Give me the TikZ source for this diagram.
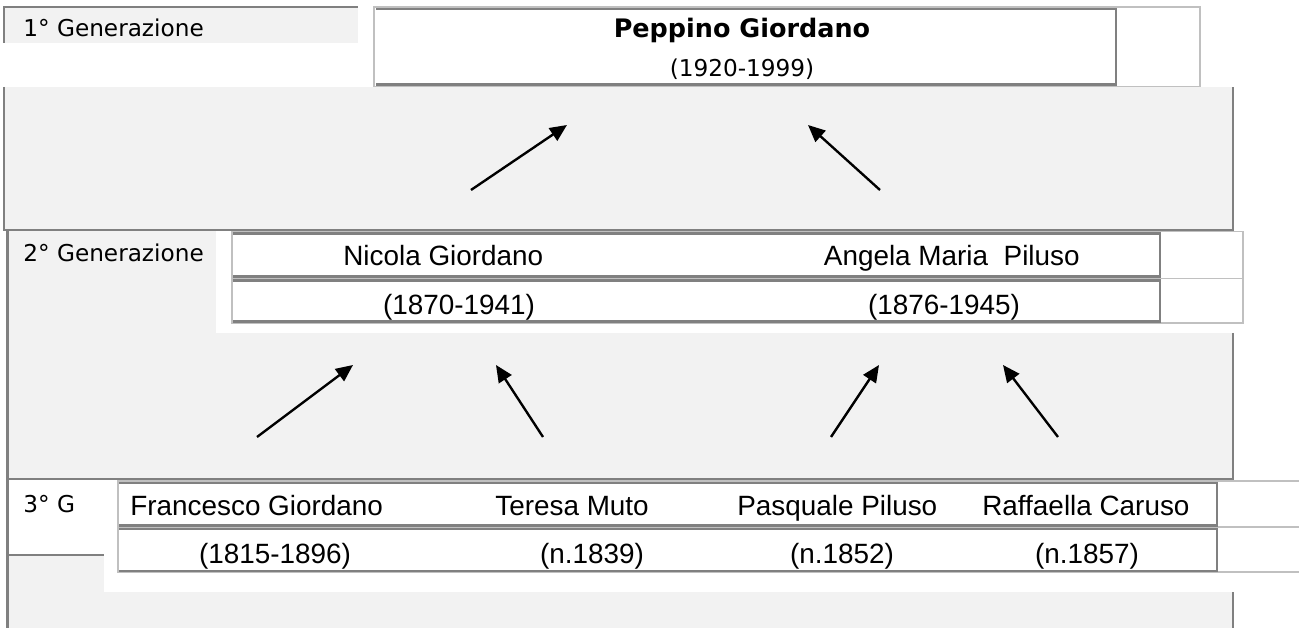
\documentclass[tikz,border=0pt]{standalone}
\usepackage{fontspec}
\setmainfont{Liberation Sans}
\newfontfamily\verdfont{DejaVu Sans}
\usetikzlibrary{arrows.meta}
\definecolor{cellgray}{HTML}{F2F2F2}
\definecolor{darkline}{HTML}{808080}
\definecolor{lightline}{HTML}{C0C0C0}

\begin{document}
\begin{tikzpicture}[x=0.02cm,y=-0.02cm,
    darkrule/.style={draw=darkline,line width=1.5pt},
    lightrule/.style={draw=lightline,line width=0.9pt},
    person/.style={inner sep=0pt,anchor=base west,font=\fontsize{15.87}{18}\selectfont},
    years/.style={inner sep=0pt,anchor=base,font=\fontsize{15.87}{18}\selectfont},
    genlabel/.style={inner sep=0pt,anchor=base west,font=\verdfont\fontsize{13.2}{15}\selectfont},
    link/.style={-{Triangle[length=0.34cm,width=0.3cm]},line width=1.35pt}]
  \useasboundingbox (0,0) rectangle (1299,628);

  % grey panels
  \fill[cellgray] (4,7) rectangle (358,43);
  \fill[cellgray] (4,87) rectangle (1233,230);
  \fill[cellgray] (7,230) rectangle (1233,479);
  \fill[white] (216,231) rectangle (1233,333);
  \fill[cellgray] (7,556) rectangle (104,628);
  \fill[cellgray] (104,592) rectangle (1233,628);

  % frame lines
  \draw[darkrule] (4,43) -- (4,7) -- (358,7);
  \draw[darkrule] (4,87) -- (4,230) -- (1233,230) -- (1233,87);
  \draw[darkrule] (7.5,230) -- (7.5,628);
  \draw[darkrule] (1233,333) -- (1233,479) -- (7.5,479);
  \draw[darkrule] (7.5,555) -- (104,555);
  \draw[darkrule] (1233,592) -- (1233,628);

  % 1st generation
  \draw[lightrule] (374,7) rectangle (1200,86.5);
  \draw[darkrule] (376,9) -- (1116,9) -- (1116,84.5) -- (376,84.5);
  \node[genlabel] (gen1) at (23,37) {1° Generazione};
  \node[inner sep=0pt,anchor=base,font=\verdfont\bfseries\fontsize{14.5}{17}\selectfont] (peppino) at (742,38) {Peppino Giordano};
  \node[inner sep=0pt,anchor=base,font=\verdfont\fontsize{13.2}{15}\selectfont] (peppinoyr) at (742,77) {(1920-1999)};

  % 2nd generation
  \draw[lightrule] (232,231.5) rectangle (1243,323);
  \draw[lightrule] (232,278.5) -- (1243,278.5);
  \draw[darkrule] (233,233.5) -- (1160,233.5) -- (1160,276.5) -- (233,276.5);
  \draw[darkrule] (233,280.5) -- (1160,280.5) -- (1160,321.5) -- (233,321.5);
  \node[genlabel] (gen2) at (23,262) {2° Generazione};
  \node[person] (nicola) at (343,266) {Nicola Giordano};
  \node[person,anchor=base east] (angela) at (1080,266) {Angela Maria\ \ Piluso};
  \node[years] (nicolayr) at (459,315) {(1870-1941)};
  \node[years] (angelayr) at (944,315) {(1876-1945)};

  % 3rd generation
  \draw[lightrule] (1299,481) -- (118,481) -- (118,572) -- (1299,572);
  \draw[lightrule] (118,527) -- (1299,527);
  \draw[darkrule] (119,483) -- (1217,483) -- (1217,525.5) -- (119,525.5);
  \draw[darkrule] (119,529) -- (1217,529) -- (1217,571) -- (119,571);
  \node[genlabel] (gen3) at (23,512) {3° G};
  \node[person] (francesco) at (130,515) {Francesco Giordano};
  \node[person] (teresa) at (495,515) {Teresa Muto};
  \node[person] (pasquale) at (737,515) {Pasquale Piluso};
  \node[person] (raffaella) at (982,515) {Raffaella Caruso};
  \node[years] (francescoyr) at (275,563) {(1815-1896)};
  \node[years] (teresayr) at (592,563) {(n.1839)};
  \node[years] (pasqualeyr) at (842,563) {(n.1852)};
  \node[years] (raffaellayr) at (1087,563) {(n.1857)};

  % arrows
  \coordinate (nicolafrom) at (471,190);   \coordinate (nicolato) at (567,125);
  \coordinate (angelafrom) at (880,190);   \coordinate (angelato) at (808,125);
  \coordinate (francescofrom) at (257,437); \coordinate (francescoto) at (353,365);
  \coordinate (teresafrom) at (543,437);   \coordinate (teresato) at (496,365);
  \coordinate (pasqualefrom) at (831,437); \coordinate (pasqualeto) at (879,365);
  \coordinate (raffaellafrom) at (1058,437); \coordinate (raffaellato) at (1003,365);
  \draw[link] (nicolafrom) -- (nicolato);
  \draw[link] (angelafrom) -- (angelato);
  \draw[link] (francescofrom) -- (francescoto);
  \draw[link] (teresafrom) -- (teresato);
  \draw[link] (pasqualefrom) -- (pasqualeto);
  \draw[link] (raffaellafrom) -- (raffaellato);
\end{tikzpicture}
\end{document}
